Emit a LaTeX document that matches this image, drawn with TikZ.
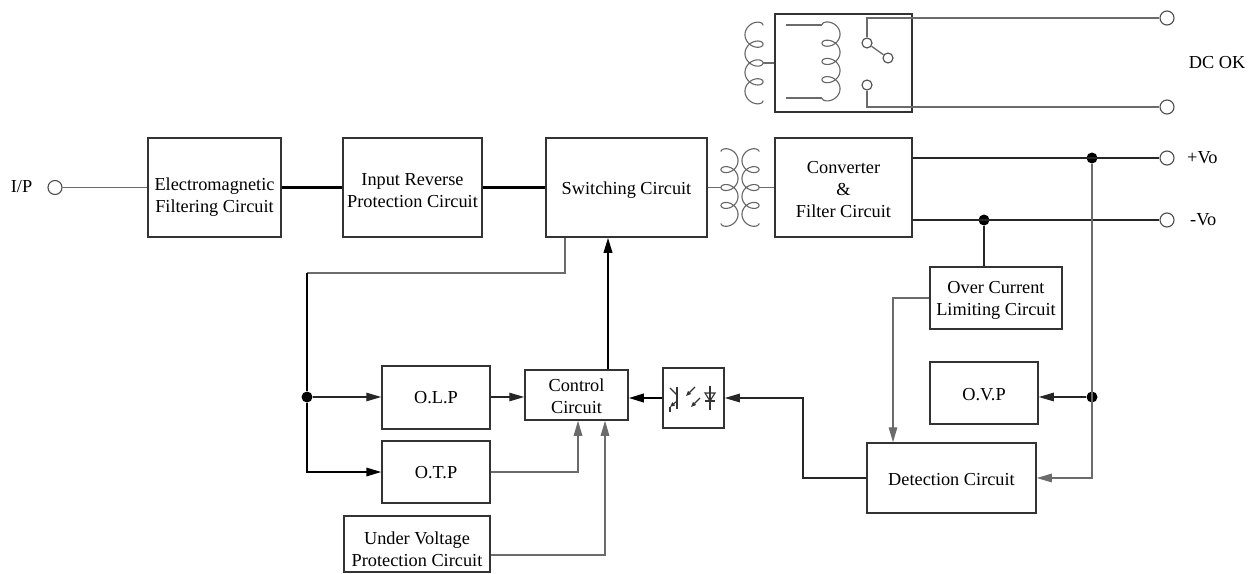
\documentclass[tikz,border=0pt]{standalone}
\usepackage{fontspec}
\setmainfont{Liberation Serif}
\usetikzlibrary{arrows.meta,calc}
\newcommand{\mycoil}[4]{\draw[coilline] plot[domain=0:25.1327,samples=400,variable=\t] ({#1-(#2)*cos(\t r)},{#3+#4*(\t-2.4*sin(\t r))});}
\begin{document}
\begin{tikzpicture}[x=1pt,y=-1pt,
  font=\fontsize{18.3}{22}\selectfont,
  box/.style={draw=black!80,line width=1.5pt,rectangle,inner sep=0pt},
  txt/.style={align=center,inner sep=0pt},
  wire/.style={draw=black!85,line width=1.3pt},
  gw/.style={draw=black!58,line width=1.3pt},
  mid/.style={draw=black,line width=1.7pt},
  thk/.style={draw=black,line width=2.1pt},
  coilline/.style={draw=black!60,line width=1.1pt},
  tip/.style={-{Triangle[length=15pt,width=8.5pt]}},
  dot/.style={circle,fill=black,inner sep=0pt,minimum size=11pt},
  term/.style={circle,draw=black!70,line width=1.1pt,fill=white,inner sep=0pt,minimum size=14pt},
  contact/.style={circle,draw=black!70,line width=1.1pt,fill=white,inner sep=0pt,minimum size=10pt}]
\fill[white] (0,0) rectangle (1257,573);
\useasboundingbox (0,0) rectangle (1257,573);

% boxes
\node[box,minimum width=133pt,minimum height=99pt] (emf) at (214.5,187.5) {};
\node[txt] (emft) at (214.5,197) {Electromagnetic\\Filtering Circuit};
\node[box,minimum width=139pt,minimum height=99pt] (inr) at (412.5,187.5) {};
\node[txt] (inrt) at (412.5,191) {Input Reverse\\Protection Circuit};
\node[box,minimum width=161pt,minimum height=99pt] (sw) at (626.5,187.5) {};
\node[txt] (swt) at (626.5,190) {Switching Circuit};
\node[box,minimum width=137pt,minimum height=99pt] (conv) at (843.5,187.5) {};
\node[txt] (convt) at (843.5,190) {Converter\\\&\\Filter Circuit};
\node[box,minimum width=137pt,minimum height=98pt] (relay) at (843.5,63) {};
\node[box,minimum width=132pt,minimum height=62pt] (oc) at (996,298) {};
\node[txt] (oct) at (996,300) {Over Current\\Limiting Circuit};
\node[box,minimum width=108pt,minimum height=62pt] (ovp) at (984,393) {};
\node[txt] (ovpt) at (984,395) {O.V.P};
\node[box,minimum width=169pt,minimum height=70pt] (det) at (951.5,478) {};
\node[txt] (dett) at (951.5,480) {Detection Circuit};
\node[box,minimum width=108pt,minimum height=63pt] (olp) at (436,397.5) {};
\node[txt] (olpt) at (436,398) {O.L.P};
\node[box,minimum width=108pt,minimum height=62pt] (otp) at (436,472) {};
\node[txt] (otpt) at (436,473) {O.T.P};
\node[box,minimum width=103pt,minimum height=50pt] (ctl) at (576.5,395) {};
\node[txt] (ctlt) at (576.5,396) {Control\\Circuit};
\node[box,minimum width=61pt,minimum height=60pt] (opto) at (693.5,398) {};
\node[box,minimum width=146pt,minimum height=56pt] (uvp) at (417,544) {};
\node[txt] (uvpt) at (417,549) {Under Voltage\\Protection Circuit};

% labels
\node[txt] (ipl) at (21.5,187) {I/P};
\node[txt] (dcok) at (1217,63) {DC OK};
\node[txt,anchor=west] (pvo) at (1187,158) {+Vo};
\node[txt,anchor=west] (mvo) at (1190,220) {-Vo};

% terminals and junctions
\node[term] (ip) at (55,187.5) {};
\node[term] (r1) at (1167,18) {};
\node[term] (r2) at (1167,107) {};
\node[term] (tp) at (1167,158) {};
\node[term] (tm) at (1167,220) {};
\node[dot] (jp) at (1092,158) {};
\node[dot] (jm) at (984,220) {};
\node[dot] (jo) at (1092,397) {};
\node[dot] (jl) at (307,397) {};

% coordinates
\coordinate (c1) at (721,187.5);
\coordinate (c2) at (759,187.5);
\coordinate (ocx) at (893,298);
\coordinate (dx) at (803,478);
\coordinate (cux) at (608,300);
\coordinate (sd) at (565,273);
\coordinate (lc) at (307,273);
\coordinate (ox) at (578,472);
\coordinate (ux) at (605,555);
\coordinate (kt) at (867,18);
\coordinate (kd) at (867,107);
\coordinate (ia) at (786,25);
\coordinate (ia2) at (822,25);
\coordinate (ib) at (786,98);
\coordinate (ib2) at (822,98);
\coordinate (lco) at (763,63);

% main chain
\draw[gw] (ip) -- (emf.west |- ip);
\draw[thk] (emf.east) -- (inr.west);
\draw[thk] (inr.east) -- (sw.west);
\draw[gw] (sw.east) -- (c1);
\draw[gw] (c2) -- (conv.west);

% transformer
\mycoil{729.5}{8.5}{151.7}{2.85}
\mycoil{750.5}{-8.5}{151.7}{2.85}

% relay
\mycoil{754}{-9}{25.3}{3.0}
\mycoil{831}{9}{25}{2.9}
\draw[gw] (lco) -- (relay.west);
\draw[gw] (ia) -- (ia2);
\draw[gw] (ib) -- (ib2);
\node[contact] (ka) at (867,43) {};
\node[contact] (kb) at (888,58) {};
\node[contact] (kc) at (867,85) {};
\draw[gw] (ka) -- (kt) -- (r1);
\draw[gw] (kc) -- (kd) -- (r2);
\draw[gw] (ka) -- (kb);

% outputs
\draw[wire] (conv.east |- tp) -- (tp);
\draw[wire] (conv.east |- tm) -- (tm);
\draw[wire] (jm) -- (jm |- oc.north);
\draw[gw,tip] (jp) -- (jp |- det.east) -- (det.east);
\draw[wire,tip] (jo) -- (jo -| ovp.east);
\draw[gw,tip] (oc.west) -- (ocx) -- (ocx |- det.north);
\draw[wire,tip] (det.west) -- (dx) -- (dx |- opto.east) -- (opto.east);

% control section
\draw[thk,tip] (opto.west) -- (opto.west -| ctl.east);
\draw[thk,tip] (cux |- ctl.north) -- (cux |- sw.south);
\draw[gw] (sd |- sw.south) -- (sd) -- (lc);
\draw[mid] (lc) -- (jl);
\draw[mid,tip] (jl) -- (jl |- otp.west) -- (otp.west);
\draw[wire,tip] (jl) -- (jl -| olp.west);
\draw[wire,tip] (olp.east |- jl) -- (jl -| ctl.west);
\draw[gw,tip] (otp.east) -- (ox) -- (ox |- ctl.south);
\draw[gw,tip] (uvp.east |- ux) -- (ux) -- (ux |- ctl.south);

% optocoupler symbol
\begin{scope}[line width=1.1pt,draw=black!80]
\draw (677,387) -- (677,409);
\draw (677,395) -- (670,388);
\draw[-{Triangle[length=5pt,width=4pt]}] (677,401) -- (670,407);
\draw (670,407) -- (670,412);
\draw[-{Triangle[length=5pt,width=4pt]}] (695,387) -- (686,396);
\draw[-{Triangle[length=5pt,width=4pt]}] (700,398) -- (691,407);
\draw (710,386) -- (710,410);
\draw (705,393) -- (715,393) -- (710,401) -- cycle;
\draw (705,401) -- (715,401);
\end{scope}
\end{tikzpicture}
\end{document}
